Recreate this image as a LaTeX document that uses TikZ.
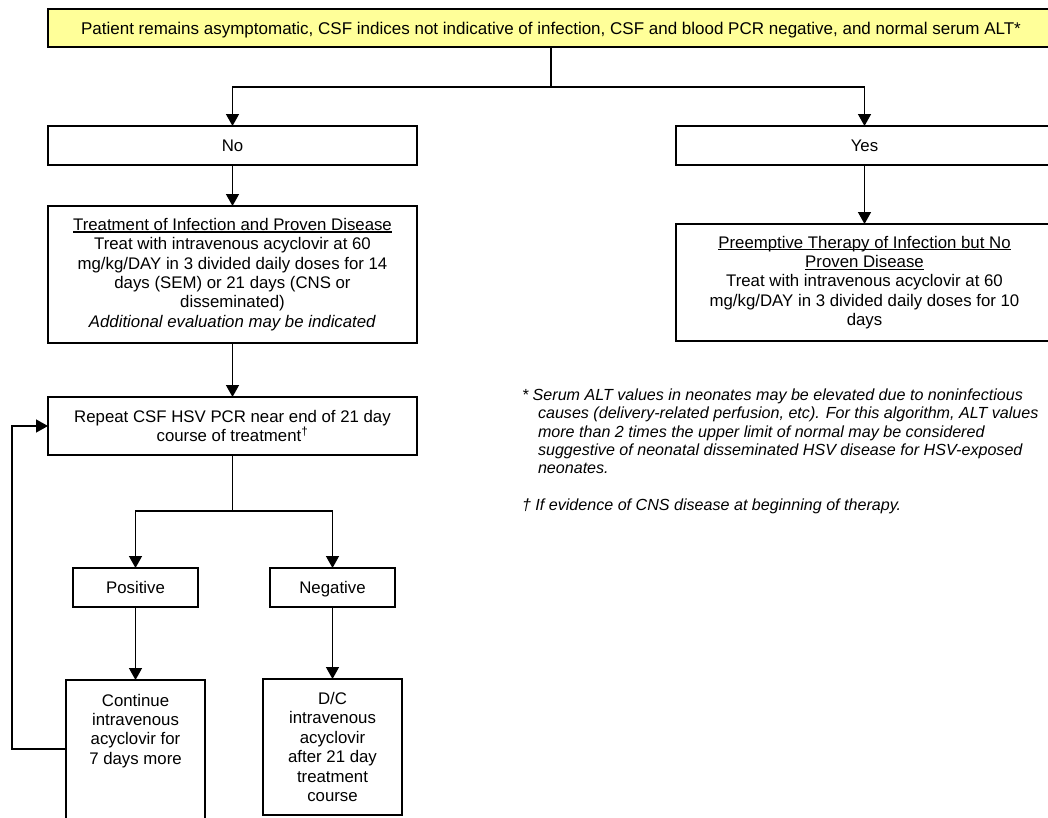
\documentclass[tikz,border=0pt]{standalone}
\usepackage{fontspec}
\setmainfont{Liberation Sans}
\usetikzlibrary{arrows.meta}
\definecolor{boxyellow}{RGB}{255,255,153}
\newsavebox{\myulbox}
\newcommand{\myul}[1]{\sbox{\myulbox}{#1}\rlap{\rule[-2.2pt]{\wd\myulbox}{1.1pt}}\usebox{\myulbox}}
\begin{document}
\begin{tikzpicture}[x=1pt,y=-1pt,
  every node/.style={inner sep=0pt, outer sep=0pt},
  box/.style={draw=black, line width=1.4pt, align=center,
    font=\fontsize{16.8}{19.4}\selectfont},
  one/.style={text height=12pt, text depth=0pt},
  txt/.style={align=center, font=\fontsize{16.8}{19.4}\selectfont},
  note/.style={align=left, font=\fontsize{16.1}{18.3}\selectfont\itshape},
  conn/.style={line width=1.4pt},
  arr/.style={conn, -{Triangle[width=13pt,length=12pt]}}]
\useasboundingbox (0,0) rectangle (1048,817);

\node[box, one, fill=boxyellow, minimum width=1006, minimum height=38,
      font=\fontsize{17}{19.4}\selectfont] (top) at (551,28)
  {Patient remains asymptomatic, CSF indices not indicative of infection, CSF and blood PCR negative, and normal serum ALT*};

\node[box, one, minimum width=369, minimum height=39] (no) at (232.5,145.5) {No};
\node[box, one, minimum width=377, minimum height=39] (yes) at (864.5,145.5) {Yes};

\node[box, minimum width=369, minimum height=137] (treat) at (232.5,274.5)
  {\myul{Treatment of Infection and Proven Disease}\\
   Treat with intravenous acyclovir at 60\\
   mg/kg/DAY in 3 divided daily doses for 14\\
   days (SEM) or 21 days (CNS or\\
   disseminated)\\
   \textit{Additional evaluation may be indicated}};

\node[box, minimum width=377, minimum height=117] (pre) at (864.5,282.5)
  {\myul{Preemptive Therapy of Infection but No}\\
   \myul{Proven Disease}\\
   Treat with intravenous acyclovir at 60\\
   mg/kg/DAY in 3 divided daily doses for 10\\
   days};

\node[box, minimum width=369, minimum height=58] (rep) at (232.5,426)
  {Repeat CSF HSV PCR near end of 21 day\\
   course of treatment\textsuperscript{†}};

\node[box, one, minimum width=125, minimum height=39] (pos) at (135.5,587.5) {Positive};
\node[box, one, minimum width=125, minimum height=39] (neg) at (332.5,587.5) {Negative};

\node[box, minimum width=139, minimum height=160, anchor=north] (cont) at (135.5,680) {};
\node[txt, anchor=north] (conttxt) at (135.5,694)
  {Continue\\intravenous\\acyclovir for\\7 days more};

\node[box, minimum width=139, minimum height=136] (dc) at (332.5,747)
  {D/C\\intravenous\\acyclovir\\after 21 day\\treatment\\course};

\node[note, anchor=north west] (n1) at (522,389)
  {* Serum ALT values in neonates may be elevated due to noninfectious\\
   \hspace*{16pt}causes (delivery-related perfusion, etc). For this algorithm, ALT values\\
   \hspace*{16pt}more than 2 times the upper limit of normal may be considered\\
   \hspace*{16pt}suggestive of neonatal disseminated HSV disease for HSV-exposed\\
   \hspace*{16pt}neonates.};
\node[note, anchor=north west] (n2) at (522,499)
  {† If evidence of CNS disease at beginning of therapy.};

% connectors
\coordinate (j1) at (551,87);
\draw[conn] (top.south) -- (j1);
\draw[arr] (j1) -| (no.north);
\draw[arr] (j1) -| (yes.north);
\draw[arr] (no.south) -- (treat.north);
\draw[arr] (yes.south) -- (pre.north);
\draw[arr] (treat.south) -- (rep.north);
\coordinate (j2) at (232.5,511);
\draw[conn] (rep.south) -- (j2);
\draw[arr] (j2) -| (pos.north);
\draw[arr] (j2) -| (neg.north);
\draw[arr] (pos.south) -- (cont.north);
\draw[arr] (neg.south) -- (dc.north);
\coordinate (lp) at (12,749);
\draw[arr] (cont.west |- lp) -- (lp) |- (rep.west);
\end{tikzpicture}
\end{document}
